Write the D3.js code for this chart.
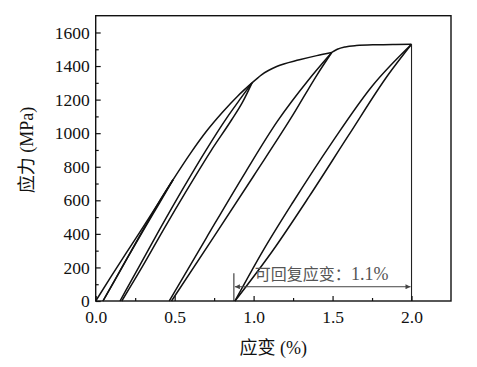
<!DOCTYPE html>
<html>
<head>
<meta charset="utf-8">
<script src="https://cdn.jsdelivr.net/npm/d3@7"></script>
<style>
  body { margin: 0; background: #fff; }
  svg { display: block; }
  text { font-family: "Liberation Serif", "Noto Sans CJK SC", serif; }
</style>
</head>
<body>
<div id="grafica"></div>
<script>
  // ejes
  const xTicks = [0, 0.5, 1.0, 1.5, 2.0];
  const xMinor = [0.25, 0.75, 1.25, 1.75];
  const yTicks = [0, 200, 400, 600, 800, 1000, 1200, 1400, 1600];
  const yMinor = [100, 300, 500, 700, 900, 1100, 1300, 1500];

  // ciclo 1 (deformacion, tension), ordenados por deformacion
  const carga1 = [[0, 0], [0.10, 150], [0.20, 296], [0.30, 440], [0.40, 588], [0.49, 723]];
  const descarga1 = [[0.046, 0], [0.12, 122], [0.20, 255], [0.30, 418], [0.40, 578], [0.49, 723]];
  const recarga1 = [[0.046, 0], [0.13, 140], [0.22, 290], [0.31, 440], [0.40, 588], [0.49, 723]];
  const envolvente1 = [[0.49, 723], [0.60, 880], [0.70, 1010], [0.80, 1122], [0.90, 1222], [0.99, 1300]];

  // ciclo 2
  const descarga2 = [[0.154, 0], [0.28, 214], [0.406, 428], [0.55, 665], [0.696, 895], [0.829, 1090], [0.92, 1210], [0.99, 1300]];
  const recarga2 = [[0.165, 0], [0.30, 212], [0.425, 418], [0.58, 665], [0.73, 895], [0.861, 1080], [0.93, 1185], [0.99, 1300]];
  const envolvente2 = [[0.99, 1300], [1.05, 1348], [1.146, 1397], [1.29, 1437], [1.40, 1462], [1.495, 1481]];

  // ciclo 3
  const descarga3 = [[0.466, 0], [0.70, 375], [0.95, 770], [1.15, 1070], [1.35, 1320], [1.495, 1481]];
  const recarga3 = [[0.48, 0], [0.75, 385], [1.00, 745], [1.25, 1110], [1.40, 1345], [1.495, 1481]];
  const envolvente3 = [[1.495, 1481], [1.53, 1500], [1.58, 1514], [1.65, 1522], [1.78, 1527], [1.90, 1529], [2.0, 1530]];

  // ciclo 4
  const descarga4 = [[0.882, 0], [1.06, 300], [1.25, 590], [1.50, 950], [1.75, 1280], [2.0, 1530]];
  const recarga4 = [[0.882, 0], [1.124, 304], [1.35, 620], [1.60, 985], [1.85, 1345], [2.0, 1530]];

  const curvas = [carga1, descarga1, recarga1, envolvente1, descarga2, recarga2, envolvente2, descarga3, recarga3, envolvente3, descarga4, recarga4];

  // anotacion: deformacion recuperable
  const recuperable = [0.875, 2.0];
  const flechaY = 85;
  const textoCJK = "可回复应变：";
  const textoValor = "1.1%";

  const width = 477, height = 367;
  const margin = { left: 95.7, right: 26, top: 15.7, bottom: 66 };

  const x = d3.scaleLinear().domain([0, 2.25]).range([margin.left, width - margin.right]);
  const y = d3.scaleLinear().domain([0, 1700]).range([height - margin.bottom, margin.top]);

  const svg = d3.select("#grafica")
    .append("svg")
    .attr("width", width)
    .attr("height", height);

  // marcador flecha
  svg.append("defs").append("marker")
    .attr("id", "punta")
    .attr("viewBox", "0 0 10 10")
    .attr("refX", 10).attr("refY", 5)
    .attr("markerWidth", 9).attr("markerHeight", 5)
    .attr("markerUnits", "userSpaceOnUse")
    .attr("orient", "auto-start-reverse")
    .append("path")
    .attr("d", "M0,0 L10,5 L0,10 Z")
    .attr("fill", "#444");

  // curvas
  const linea = d3.line()
    .x(d => x(d[0]))
    .y(d => y(d[1]))
    .curve(d3.curveMonotoneX);

  svg.append("g")
    .selectAll("path")
    .data(curvas)
    .enter()
    .append("path")
    .attr("d", linea)
    .attr("fill", "none")
    .attr("stroke", "#111")
    .attr("stroke-width", 1.5);

  // linea vertical en 2.0
  svg.append("line")
    .attr("x1", x(recuperable[1])).attr("x2", x(recuperable[1]))
    .attr("y1", y(1530)).attr("y2", y(0))
    .attr("stroke", "#222")
    .attr("stroke-width", 1.1);

  // linea vertical en 0.875
  svg.append("line")
    .attr("x1", x(recuperable[0])).attr("x2", x(recuperable[0]))
    .attr("y1", y(165)).attr("y2", y(0))
    .attr("stroke", "#333")
    .attr("stroke-width", 1.1);

  // flecha
  svg.append("line")
    .attr("x1", x(recuperable[0]) + 1).attr("x2", x(recuperable[1]) - 1)
    .attr("y1", y(flechaY)).attr("y2", y(flechaY))
    .attr("stroke", "#444")
    .attr("stroke-width", 1)
    .attr("marker-start", "url(#punta)")
    .attr("marker-end", "url(#punta)");

  const nota = svg.append("text")
    .attr("x", x(recuperable[0]) + 21)
    .attr("y", y(flechaY) - 7)
    .attr("font-size", 16)
    .attr("fill", "#555");
  nota.append("tspan").text(textoCJK);
  nota.append("tspan").attr("font-size", 18).text(textoValor);

  // ejes
  svg.append("g")
    .attr("transform", `translate(0,${y(0)})`)
    .call(d3.axisBottom(x).tickValues(xTicks).tickFormat(d3.format(".1f")).tickSizeInner(-5).tickSizeOuter(0).tickPadding(10));

  svg.append("g")
    .attr("transform", `translate(0,${y(0)})`)
    .call(d3.axisBottom(x).tickValues(xMinor).tickFormat("").tickSizeInner(-3).tickSizeOuter(0));

  svg.append("g")
    .attr("transform", `translate(${x(0)},0)`)
    .call(d3.axisLeft(y).tickValues(yTicks).tickFormat(d3.format("d")).tickSizeInner(-5).tickSizeOuter(0).tickPadding(6));

  svg.append("g")
    .attr("transform", `translate(${x(0)},0)`)
    .call(d3.axisLeft(y).tickValues(yMinor).tickFormat("").tickSizeInner(-3).tickSizeOuter(0));

  svg.selectAll(".domain").remove();
  svg.selectAll(".tick line").attr("stroke", "#111").attr("stroke-width", 1.2);
  svg.selectAll(".tick text")
    .attr("font-size", 17.5)
    .attr("font-family", "Liberation Serif")
    .attr("fill", "#111");

  // marco
  svg.append("rect")
    .attr("x", x(0)).attr("y", y(1700))
    .attr("width", x(2.25) - x(0))
    .attr("height", y(0) - y(1700))
    .attr("fill", "none")
    .attr("stroke", "#111")
    .attr("stroke-width", 1.4);

  // titulos
  svg.append("text")
    .attr("x", (x(0) + x(2.25)) / 2)
    .attr("y", 354)
    .attr("text-anchor", "middle")
    .attr("font-size", 18)
    .attr("fill", "#111")
    .text("应变 (%)");

  svg.append("text")
    .attr("transform", `translate(33,150) rotate(-90)`)
    .attr("text-anchor", "middle")
    .attr("font-size", 18)
    .attr("fill", "#111")
    .text("应力 (MPa)");
</script>
</body>
</html>
